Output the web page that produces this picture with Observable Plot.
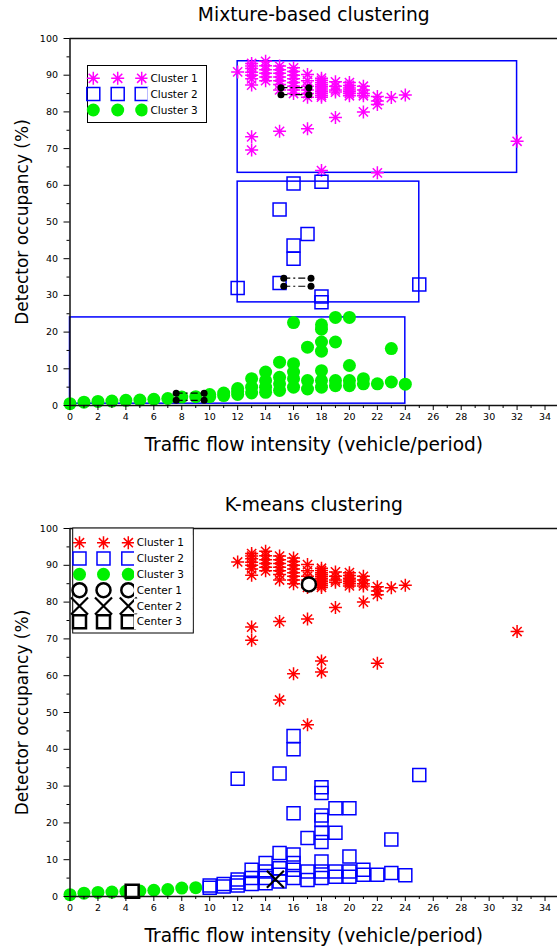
<!DOCTYPE html>
<html><head><meta charset="utf-8">
<script src="https://cdn.jsdelivr.net/npm/d3@7"></script>
<script src="https://cdn.jsdelivr.net/npm/@observablehq/plot@0.6"></script>
<style>
html,body{margin:0;padding:0;background:#fff;overflow:hidden;width:557px;height:950px;}
svg{display:block;}
</style></head><body><div id="c"></div>
<script>
// ---------- tick labels ----------
const xTickLabels = [0,2,4,6,8,10,12,14,16,18,20,22,24,26,28,30,32,34];
const xMinorTicks = [1,3,5,7,9,11,13,15,17,19,21,23,25,27,29,31,33];
const yTickLabels = [0,10,20,30,40,50,60,70,80,90,100];
const yMinorTicks = [5,15,25,35,45,55,65,75,85,95];

// ---------- texts ----------
const titleTop = "Mixture-based clustering";
const titleBottom = "K-means clustering";
const xLabel = "Traffic flow intensity (vehicle/period)";
const yLabel = "Detector occupancy (%)";
const clusterNames = ["Cluster 1","Cluster 2","Cluster 3"];
const centerNames = ["Center 1","Center 2","Center 3"];

// ---------- data: high occupancy (mixture 1, k-means 1) ----------
const highFlow = [12,
 13,13,13,13,13,13,13,13,13,
 14,14,14,14,14,14,
 15,15,15,15,15,15,15,15,
 16,16,16,16,16,16,16,16,
 17,17,17,17,17,17,17,
 18,18,18,18,18,18,18,18,18,18,18,18,
 19,19,19,19,19,
 20,20,20,20,20,20,20,
 21,21,21,21,21,
 22,22,22,22,
 23,24,32];
const highOcc = [90.9,
 93.2,92.5,91.8,90.8,90.0,89.0,87.3,73.2,69.6,
 93.8,92.6,91.5,90.5,89.5,88.5,
 92.5,91.5,90.5,89.5,88.5,87.5,86.0,74.7,
 92.0,91.0,90.0,89.0,88.0,87.0,86.0,85.0,
 90.2,88.5,87.0,86.0,85.0,84.0,75.4,
 89.2,88.6,88.0,87.5,87.0,86.5,86.0,85.5,85.0,84.5,84.0,64.0,
 88.2,87.0,86.0,85.4,78.5,
 88.0,87.2,86.5,86.0,85.5,85.0,84.4,
 87.0,86.0,85.0,84.4,80.0,
 84.2,83.0,82.0,63.4,
 83.9,84.6,72.0];

// mid occupancy: mixture 2 & k-means 1
const midAFlow = [15, 16, 17, 18];
const midAOcc  = [53.4, 60.5, 46.7, 61.0];
// mid occupancy: mixture 2 & k-means 2
const midBFlow = [12, 15, 16, 16, 18, 18, 25];
const midBOcc  = [32.0, 33.4, 40.0, 43.6, 29.7, 28.1, 33.0];

// low occupancy, flow >= 10: mixture 3 & k-means 2
const lowBFlow = [10,10, 11,11, 12,12,12, 13,13,13, 14,14,14,14, 15,15,15,15, 16,16,16,16,16, 17,17,17, 18,18,18,18,18,18,18, 19,19,19,19, 20,20,20,20, 21,21, 22, 23,23, 24];
const lowBOcc  = [2.4,3.0, 2.7,3.4, 3.0,3.8,4.6, 3.4,5.0,7.3, 3.6,5.0,6.8,9.1, 4.1,5.9,7.7,11.8, 5.0,7.3,9.1,11.4,22.6, 4.5,6.8,15.9, 5.0,6.8,9.5,14.8,17.3,20.8,22.0, 5.4,6.8,17.3,24.0, 5.4,6.8,10.9,24.0, 5.9,7.3, 5.9, 6.4,15.5, 5.8];

// low occupancy, flow <= 9: mixture 3 & k-means 3
const lowAFlow = [0,1,2,3,4,5,6,7,8,9];
const lowAOcc  = [0.5,0.9,1.1,1.2,1.4,1.5,1.7,1.9,2.3,2.4];

// mixture model markers (black dots joined by dash-dot lines)
const mixDotX0 = [15.1, 15.3, 7.6];
const mixDotX1 = [17.1, 17.25, 9.6];
const mixDotLow = [84.7, 32.5, 1.4];
const mixDotHigh = [86.6, 34.7, 3.35];

// k-means centers
const centerFlow = [17.1, 14.7, 4.45];
const centerOcc  = [84.8, 4.7, 1.4];

(function () {
// ---------- helpers ----------
const pts = (fx, fy) => fx.map((x, i) => ({x, y: fy[i]}));
const high = pts(highFlow, highOcc);
const midA = pts(midAFlow, midAOcc);
const midB = pts(midBFlow, midBOcc);
const lowA = pts(lowAFlow, lowAOcc);
const lowB = pts(lowBFlow, lowBOcc);

const mix1 = high;
const mix2 = midA.concat(midB);
const mix3 = lowA.concat(lowB);
const km1 = high.concat(midA);
const km2 = midB.concat(lowB);
const km3 = lowA;

const boxes = [mix1, mix2, mix3].map(g => {
  const [x1, x2] = d3.extent(g, d => d.x);
  const [y1, y2] = d3.extent(g, d => d.y);
  return {x1, x2, y1, y2};
});
const mixLines = [];
const mixDots = [];
mixDotX0.forEach((x0, i) => {
  for (const y of [mixDotLow[i], mixDotHigh[i]]) {
    mixLines.push({x1: x0, x2: mixDotX1[i], y});
    mixDots.push({x: x0, y}, {x: mixDotX1[i], y});
  }
});
const centers = centerFlow.map((x, i) => ({x, y: centerOcc[i], name: centerNames[i]}));

// symbols
const rad = s => Math.sqrt(s / Math.PI);
const star8 = {draw(ctx, size) { const r = rad(size);
  for (const a of [0, Math.PI/4, Math.PI/2, 3*Math.PI/4]) {
    const dx = r*Math.cos(a), dy = r*Math.sin(a); ctx.moveTo(dx, dy); ctx.lineTo(-dx, -dy); } }};
const sq = {draw(ctx, size) { const r = rad(size); ctx.moveTo(-r,-r); ctx.lineTo(r,-r); ctx.lineTo(r,r); ctx.lineTo(-r,r); ctx.closePath(); }};
const xx = {draw(ctx, size) { const r = rad(size); ctx.moveTo(-r,-r); ctx.lineTo(r,r); ctx.moveTo(r,-r); ctx.lineTo(-r,r); }};
const circ = {draw(ctx, size) { const r = rad(size); ctx.moveTo(r,0); ctx.arc(0,0,r,0,2*Math.PI); }};

const FONT = "DejaVu Sans, sans-serif";
const MAG = "#ff00ff", BLUE = "#0000ff", GREEN = "#00f000", RED = "#ff0000";

function axes() {
  return [
    Plot.ruleY([100], {stroke: "#111", strokeWidth: 1.5}),
    Plot.ruleY([0], {stroke: "#111", strokeWidth: 1.5}),
    Plot.ruleX([0], {stroke: "#111", strokeWidth: 1.5}),
    Plot.axisX({ticks: xTickLabels, tickSize: 5, tickPadding: 3, fontSize: 9.5, label: null, tickFormat: d => String(d)}),
    Plot.axisX({ticks: xMinorTicks, tickSize: 3, label: null, tickFormat: () => ""}),
    Plot.axisY({ticks: yTickLabels, tickSize: 6, tickPadding: 6, fontSize: 9.5, label: null, tickFormat: d => String(d)}),
    Plot.axisY({ticks: yMinorTicks, tickSize: 3, label: null, tickFormat: () => ""}),
    Plot.text([xLabel], {frameAnchor: "bottom", dy: 40, lineAnchor: "middle", textAnchor: "middle", fontSize: 18.6}),
    Plot.text([yLabel], {frameAnchor: "left", dx: -47, rotate: -90, lineAnchor: "middle", textAnchor: "middle", fontSize: 17})
  ];
}

function symPath(sym, r) { const p = d3.path(); sym.draw(p, r*r*Math.PI); return p.toString(); }

function legend(svg, o) {
  const g = d3.select(svg).append("g").attr("font-family", FONT).attr("font-size", 10.5).attr("text-anchor", "start");
  g.append("rect").attr("x", o.x0).attr("y", o.y0).attr("width", o.x1 - o.x0).attr("height", o.y1 - o.y0)
    .attr("fill", "white").attr("stroke", "black").attr("stroke-width", 1);
  o.rows.forEach(r => {
    o.markerX.forEach(mx => {
      g.append("path").attr("transform", `translate(${mx},${r.y})`).attr("d", symPath(r.sym, r.r))
        .attr("fill", r.fill).attr("stroke", r.stroke).attr("stroke-width", r.sw);
    });
    g.append("rect").attr("x", o.coverX).attr("y", r.y - 7.5).attr("width", o.x1 - o.coverX - 1).attr("height", 15).attr("fill", "white");
    g.append("text").attr("x", o.textX).attr("y", r.y).attr("dy", "0.35em").attr("text-anchor", "start").attr("fill", "black").text(r.label);
  });
}

// ---------- top chart ----------
const chartTop = Plot.plot({
  width: 557, height: 475, marginTop: 38, marginBottom: 70, marginLeft: 69.5, marginRight: 0,
  style: {fontFamily: FONT, fontSize: "9.5px", color: "black", background: "white"},
  x: {domain: [0, 35], range: [69.5, 558.5]},
  y: {domain: [0, 100], range: [405, 38]},
  marks: [
    Plot.rect(boxes, {x1: "x1", x2: "x2", y1: "y1", y2: "y2", fill: "none", stroke: BLUE, strokeWidth: 1.5}),
    Plot.dot(mix1, {x: "x", y: "y", symbol: star8, r: 6.5, stroke: MAG, strokeWidth: 1.5}),
    Plot.dot(mix2, {x: "x", y: "y", symbol: sq, r: 6.5, stroke: BLUE, strokeWidth: 1.5, fill: "none"}),
    Plot.dot(mix3, {x: "x", y: "y", symbol: circ, r: 6.5, fill: GREEN, stroke: "none"}),
    Plot.ruleY(mixLines, {x1: "x1", x2: "x2", y: "y", stroke: "black", strokeWidth: 1.2, strokeDasharray: "7,3,2,3"}),
    Plot.dot(mixDots, {x: "x", y: "y", r: 3.5, fill: "black", stroke: "none"}),
    Plot.text([titleTop], {frameAnchor: "top", dy: -23, lineAnchor: "middle", textAnchor: "middle", fontSize: 18.7}),
    ...axes()
  ]
});
legend(chartTop, {
  x0: 87.5, y0: 65.5, x1: 206.5, y1: 122.5, markerX: [93.3, 117.7, 141.7], textX: 150.5, coverX: 147.5,
  rows: [
    {y: 78.3, sym: star8, r: 6.5, fill: "none", stroke: MAG, sw: 1.5, label: clusterNames[0]},
    {y: 94, sym: sq, r: 6.5, fill: "none", stroke: BLUE, sw: 1.5, label: clusterNames[1]},
    {y: 110, sym: circ, r: 6.5, fill: GREEN, stroke: "none", sw: 0, label: clusterNames[2]}
  ]
});

// ---------- bottom chart ----------
const chartBot = Plot.plot({
  width: 557, height: 475, marginTop: 53, marginBottom: 54, marginLeft: 69.5, marginRight: 0,
  style: {fontFamily: FONT, fontSize: "9.5px", color: "black", background: "white"},
  x: {domain: [0, 35], range: [69.5, 558.5]},
  y: {domain: [0, 100], range: [421, 53]},
  marks: [
    Plot.dot(km3, {x: "x", y: "y", symbol: circ, r: 6.5, fill: GREEN, stroke: "none"}),
    Plot.dot(km2, {x: "x", y: "y", symbol: sq, r: 6.5, stroke: BLUE, strokeWidth: 1.5, fill: "none"}),
    Plot.dot(km1, {x: "x", y: "y", symbol: star8, r: 6.5, stroke: RED, strokeWidth: 1.5}),
    Plot.dot([centers[0]], {x: "x", y: "y", symbol: circ, r: 7, stroke: "black", strokeWidth: 2.5, fill: "white"}),
    Plot.dot([centers[1]], {x: "x", y: "y", symbol: xx, r: 8.5, stroke: "black", strokeWidth: 2.2, fill: "none"}),
    Plot.dot([centers[2]], {x: "x", y: "y", symbol: sq, r: 6.5, stroke: "black", strokeWidth: 2.5, fill: "white"}),
    Plot.text([titleBottom], {frameAnchor: "top", dy: -23, lineAnchor: "middle", textAnchor: "middle", fontSize: 18.7}),
    ...axes()
  ]
});
legend(chartBot, {
  x0: 72.7, y0: 53, x1: 193.3, y1: 158, markerX: [79.5, 103.5, 128.3], textX: 136.7, coverX: 134,
  rows: [
    {y: 67.7, sym: star8, r: 6.5, fill: "none", stroke: RED, sw: 1.5, label: clusterNames[0]},
    {y: 83.5, sym: sq, r: 6.5, fill: "none", stroke: BLUE, sw: 1.5, label: clusterNames[1]},
    {y: 99.3, sym: circ, r: 6.5, fill: GREEN, stroke: "none", sw: 0, label: clusterNames[2]},
    {y: 115.2, sym: circ, r: 7, fill: "white", stroke: "black", sw: 2.5, label: centerNames[0]},
    {y: 131, sym: xx, r: 8.5, fill: "none", stroke: "black", sw: 2.2, label: centerNames[1]},
    {y: 146.8, sym: sq, r: 6.5, fill: "white", stroke: "black", sw: 2.5, label: centerNames[2]}
  ]
});

const c = document.getElementById("c");
c.appendChild(chartTop);
c.appendChild(chartBot);
})();
</script></body></html>
